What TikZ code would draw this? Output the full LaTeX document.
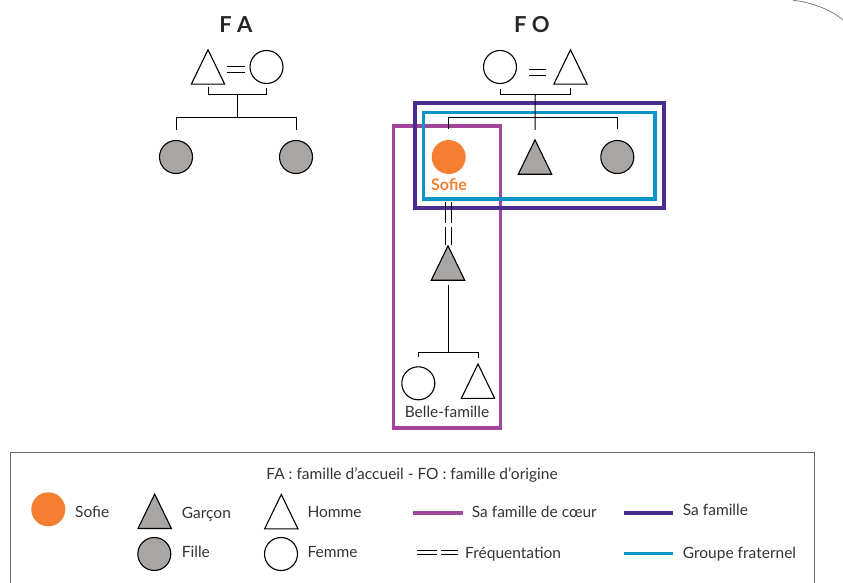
\documentclass[tikz,border=0pt]{standalone}
\usepackage{fontspec}
\setmainfont{Lato}
\usetikzlibrary{calc}

\definecolor{orangeSofie}{HTML}{F47F30}
\definecolor{grisEnfant}{HTML}{A8A5A2}
\definecolor{violetCoeur}{HTML}{A2459B}
\definecolor{indigoFamille}{HTML}{4B2C8F}
\definecolor{bleuFratrie}{HTML}{0A94C8}

% triangle (homme / garcon) : invisible box node + outline
\newcommand{\homme}[3][white]{%
	\node[boite] (#2) at (#3) {};
	\draw[line width=1.1pt,fill=#1] (#2.south west) -- (#2.north) -- (#2.south east) -- cycle;}

\begin{document}
\begin{tikzpicture}[x=1pt,y=-1pt,
	rond/.style={circle,draw,line width=1.1pt,minimum size=33,inner sep=0},
	boite/.style={minimum width=33,minimum height=34,inner sep=0},
	lien/.style={line width=1pt},
	texte/.style={font=\fontsize{15.5}{17}\selectfont,inner sep=0,text=black!80,anchor=base west},
	titre/.style={font=\bfseries\fontsize{22}{24}\selectfont,inner sep=0,anchor=base,text=black!85},
	cadre/.style={line width=3.6pt}]
			
			\useasboundingbox (0,0) rectangle (843,583);
			
			%%%%% FAMILLE D'ACCUEIL %%%%%
			\node[titre] (titreFA) at (236,33) {F A};
			
			\homme{faPere}{208,67}
			\node[rond] (faMere) at (266.5,67) {};
			\draw[lien] ($(faPere.east)+(2.5,0)$) -- ($(faMere.west)+(-4,0)$);
			\draw[lien] ($(faPere.east)+(2.5,6)$) -- ($(faMere.west)+(-4,6)$);
			
			\draw[lien] ($(faPere.south)+(0,3)$) -- ++(0,7) -| ($(faMere.south)+(0,3.5)$);
			\coordinate (faUnion) at ($(faPere.south)!0.5!(faMere.south)+(0,10)$);
			
			\node[rond,fill=grisEnfant] (faFille1) at (176,157) {};
			\node[rond,fill=grisEnfant] (faFille2) at (296,157) {};
			
			\draw[lien] (faUnion) -- ($(faUnion |- faFille1.north)+(0,-22)$);
			\draw[lien] ($(faFille1.north)+(0,-10)$) -- ($(faFille1.north)+(0,-22)$) -- ($(faFille2.north)+(0,-22)$) -- ($(faFille2.north)+(0,-10)$);
			
			%%%%% FAMILLE D'ORIGINE %%%%%
			\node[titre] (titreFO) at (532,33) {F O};
			
			\node[rond] (foMere) at (500,67) {};
			\homme{foPere}{570.5,67}
			\draw[lien] ($(foMere.east)+(11.5,3)$) -- ($(foPere.west)+(-8,3)$);
			\draw[lien] ($(foMere.east)+(11.5,9)$) -- ($(foPere.west)+(-8,9)$);
			
			\draw[lien] ($(foMere.south)+(0,4.5)$) -- ++(0,6) -| ($(foPere.south)+(0,4)$);
			\coordinate (foUnion) at ($(foMere.south)!0.5!(foPere.south)+(0,10.5)$);
			
			% cadres
			\draw[cadre,violetCoeur] (393.5,126) rectangle (500.5,428);
			\draw[cadre,indigoFamille] (415,103) rectangle (664,208);
			\draw[cadre,bleuFratrie] (423.5,112.5) rectangle (655,199);
			
			\node[circle,fill=orangeSofie,minimum size=34,inner sep=0] (sofie) at (448.7,157) {};
			\node[font=\bfseries\fontsize{16}{18}\selectfont,text=orangeSofie,inner sep=0,anchor=base] (nomSofie) at (449,190.5) {Sofie};
			\homme[grisEnfant]{foFils}{535,157}
			\node[rond,fill=grisEnfant] (foFille) at (617.3,157) {};
			
			\draw[lien] (foUnion) -- ($(foFils.north)+(0,-10)$);
			\draw[lien] ($(sofie.north)+(0,-11)$) |- ($(foFille.north)+(0,-22)$) -- ($(foFille.north)+(0,-11)$);
			
			%%%%% BELLE-FAMILLE %%%%%
			\homme[grisEnfant]{partenaire}{448,263}
			\foreach \dx in {-3,3} {
				\draw[line width=0.9pt] ($(sofie.south)+(\dx-0.7,28)$) -- ($(sofie.south)+(\dx-0.7,49)$);
				\draw[line width=0.9pt] ($(partenaire.north)+(\dx,-19)$) -- ($(partenaire.north)+(\dx,-1)$);
			}
			
			\node[rond] (belleMere) at (418.3,383.3) {};
			\homme{bellePere}{478,381.2}
			\draw[lien] ($(partenaire.south)+(0,5)$) -- ($(partenaire.south)+(0,72)$);
			\draw[lien] ($(belleMere.north)+(0,-9)$) |- ($(bellePere.north)+(0,-12)$) -- ($(bellePere.north)+(0,-6)$);
			\node[texte,anchor=base] (belleFamille) at (447,417.5) {Belle-famille};
			
			%%%%% LEGENDE %%%%%
			\draw[black!60,line width=0.9pt] (10,452.5) rectangle (814,640);
			\node[texte,anchor=base] (legTitre) at (412,479) {FA : famille d’accueil - FO : famille d’origine};
			
			\node[circle,fill=orangeSofie,minimum size=34,inner sep=0] (legSofie) at (48.3,509.3) {};
			\node[texte] at (75,517) {Sofie};
			\homme[grisEnfant]{legGarcon}{154.7,511.3}
			\node[texte] at (181.7,518) {Garçon};
			\node[rond,fill=grisEnfant] (legFille) at (154.3,554) {};
			\node[texte] at (181.7,557) {Fille};
			\homme{legHomme}{281.3,511.7}
			\node[texte] at (307.3,517) {Homme};
			\node[rond] (legFemme) at (281,554) {};
			\node[texte] at (307.3,557) {Femme};
			
			\draw[cadre,violetCoeur] (413.3,512.7) -- (462.7,512.7);
			\node[texte] at (471.7,517) {Sa famille de cœur};
			\foreach \ya in {550.7,554} {
				\draw[line width=0.8pt] (416.7,\ya) -- (437,\ya);
				\draw[line width=0.8pt] (441,\ya) -- (458,\ya);
			}
			\node[texte] at (465,558) {Fréquentation};
			\draw[cadre,indigoFamille] (624,512.7) -- (673.3,512.7);
			\node[texte] at (682.7,515) {Sa famille};
			\draw[cadre,bleuFratrie] (624,553.3) -- (673.3,553.3);
			\node[texte] at (682.7,558) {Groupe fraternel};
			
			% coin de page
			\draw[black!55,line width=0.7pt] (793,0.3) .. controls (810,2) and (830,9) .. (843,20);
			
\end{tikzpicture}
\end{document}
